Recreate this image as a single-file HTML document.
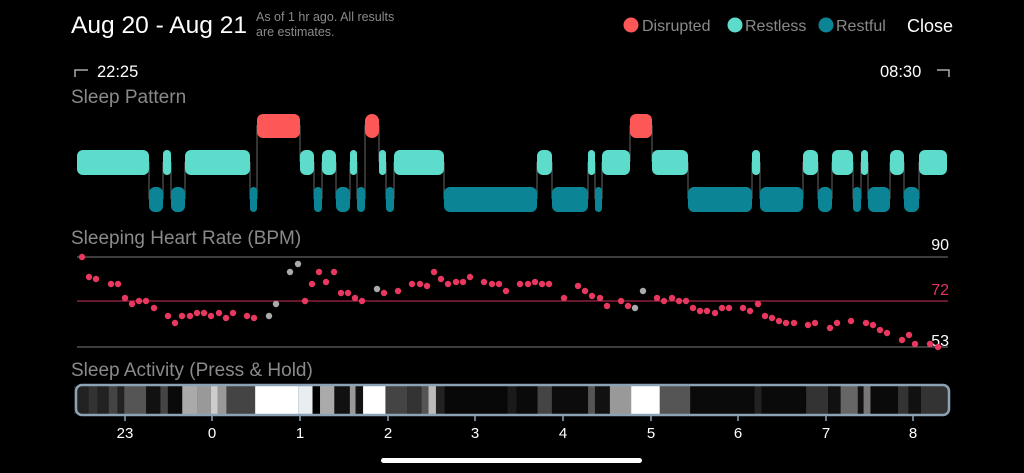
<!DOCTYPE html>
<html><head><meta charset="utf-8"><style>
html,body{margin:0;padding:0;background:#000;width:1024px;height:473px;overflow:hidden}
svg{display:block;font-family:"Liberation Sans",sans-serif}
</style></head><body>
<svg width="1024" height="473" viewBox="0 0 1024 473" xmlns="http://www.w3.org/2000/svg">
<rect width="1024" height="473" fill="#000"/>
<text x="71" y="33" font-size="24" fill="#fff" textLength="176" lengthAdjust="spacingAndGlyphs">Aug 20 - Aug 21</text>
<text x="256" y="21" font-size="12.5" fill="#8a8a8a">As of 1 hr ago. All results</text>
<text x="256" y="36" font-size="12.5" fill="#8a8a8a">are estimates.</text>
<circle cx="631" cy="25" r="7.5" fill="#fd5757"/><text x="642" y="31" font-size="16" fill="#8a8a8a">Disrupted</text>
<circle cx="735" cy="25" r="7.5" fill="#5ddccb"/><text x="745" y="31" font-size="16" fill="#8a8a8a">Restless</text>
<circle cx="826" cy="25" r="7.5" fill="#0b8595"/><text x="836" y="31" font-size="16" fill="#8a8a8a">Restful</text>
<text x="907" y="32" font-size="18" fill="#fff">Close</text>
<path d="M75,77 V70 H88" stroke="#aaa" stroke-width="1.5" fill="none"/>
<text x="97" y="77" font-size="16.5" fill="#fff">22:25</text>
<text x="880" y="77" font-size="16.5" fill="#fff">08:30</text>
<path d="M937,70 H949 V77" stroke="#aaa" stroke-width="1.5" fill="none"/>
<text x="71" y="103" font-size="19" fill="#8a8a8a">Sleep Pattern</text>
<g stroke="#444" stroke-width="1.5">
<line x1="149" y1="162" x2="149" y2="199"/><line x1="163" y1="162" x2="163" y2="199"/><line x1="171" y1="162" x2="171" y2="199"/><line x1="185" y1="162" x2="185" y2="199"/>
<line x1="250" y1="162" x2="250" y2="199"/><line x1="257" y1="125" x2="257" y2="199"/><line x1="300" y1="125" x2="300" y2="162"/><line x1="314" y1="162" x2="314" y2="199"/>
<line x1="322" y1="162" x2="322" y2="199"/><line x1="336" y1="162" x2="336" y2="199"/><line x1="350" y1="162" x2="350" y2="199"/><line x1="357" y1="162" x2="357" y2="199"/>
<line x1="365" y1="125" x2="365" y2="199"/><line x1="379" y1="125" x2="379" y2="162"/><line x1="386" y1="162" x2="386" y2="199"/><line x1="394" y1="162" x2="394" y2="199"/>
<line x1="444" y1="162" x2="444" y2="199"/><line x1="537" y1="162" x2="537" y2="199"/><line x1="552" y1="162" x2="552" y2="199"/><line x1="588" y1="162" x2="588" y2="199"/>
<line x1="595" y1="162" x2="595" y2="199"/><line x1="602" y1="162" x2="602" y2="199"/><line x1="630" y1="125" x2="630" y2="162"/><line x1="652" y1="125" x2="652" y2="162"/>
<line x1="688" y1="162" x2="688" y2="199"/><line x1="752" y1="162" x2="752" y2="199"/><line x1="760" y1="162" x2="760" y2="199"/><line x1="803" y1="162" x2="803" y2="199"/>
<line x1="818" y1="162" x2="818" y2="199"/><line x1="832" y1="162" x2="832" y2="199"/><line x1="853" y1="162" x2="853" y2="199"/><line x1="861" y1="162" x2="861" y2="199"/>
<line x1="868" y1="162" x2="868" y2="199"/><line x1="890" y1="162" x2="890" y2="199"/><line x1="904" y1="162" x2="904" y2="199"/><line x1="919" y1="162" x2="919" y2="199"/>
</g>
<g fill="#5ddccb">
<rect x="77" y="150" width="72" height="25" rx="6"/><rect x="163" y="150" width="8" height="25" rx="4"/><rect x="185" y="150" width="65" height="25" rx="6"/>
<rect x="300" y="150" width="14" height="25" rx="6"/><rect x="322" y="150" width="14" height="25" rx="6"/><rect x="350" y="150" width="7" height="25" rx="3.5"/>
<rect x="379" y="150" width="7" height="25" rx="3.5"/><rect x="394" y="150" width="50" height="25" rx="6"/><rect x="537" y="150" width="15" height="25" rx="6"/>
<rect x="588" y="150" width="7" height="25" rx="3.5"/><rect x="602" y="150" width="28" height="25" rx="6"/><rect x="652" y="150" width="36" height="25" rx="6"/>
<rect x="752" y="150" width="8" height="25" rx="4"/><rect x="803" y="150" width="15" height="25" rx="6"/><rect x="832" y="150" width="21" height="25" rx="6"/>
<rect x="861" y="150" width="7" height="25" rx="3.5"/><rect x="890" y="150" width="14" height="25" rx="6"/><rect x="919" y="150" width="28" height="25" rx="6"/>
</g>
<g fill="#0b8595">
<rect x="149" y="187" width="14" height="25" rx="6"/><rect x="171" y="187" width="14" height="25" rx="6"/><rect x="250" y="187" width="7" height="25" rx="3.5"/>
<rect x="314" y="187" width="8" height="25" rx="4"/><rect x="336" y="187" width="14" height="25" rx="6"/><rect x="357" y="187" width="8" height="25" rx="4"/>
<rect x="386" y="187" width="8" height="25" rx="4"/><rect x="444" y="187" width="93" height="25" rx="6"/><rect x="552" y="187" width="36" height="25" rx="6"/>
<rect x="595" y="187" width="7" height="25" rx="3.5"/><rect x="688" y="187" width="64" height="25" rx="6"/><rect x="760" y="187" width="43" height="25" rx="6"/>
<rect x="818" y="187" width="14" height="25" rx="6"/><rect x="853" y="187" width="8" height="25" rx="4"/><rect x="868" y="187" width="22" height="25" rx="6"/>
<rect x="904" y="187" width="15" height="25" rx="6"/>
</g>
<g fill="#fd5757">
<rect x="257" y="114" width="43" height="24" rx="6"/><rect x="365" y="114" width="14" height="24" rx="7"/><rect x="630" y="114" width="22" height="24" rx="6"/>
</g>
<text x="71" y="244" font-size="19" fill="#8a8a8a">Sleeping Heart Rate (BPM)</text>
<line x1="77" y1="257" x2="948" y2="257" stroke="#777" stroke-width="1"/>
<line x1="77" y1="301" x2="948" y2="301" stroke="#d1305a" stroke-width="1"/>
<line x1="77" y1="347" x2="948" y2="347" stroke="#777" stroke-width="1"/>
<text x="949" y="250" font-size="16" fill="#fff" text-anchor="end">90</text>
<text x="949" y="295" font-size="16" fill="#e0355f" text-anchor="end">72</text>
<text x="949" y="346" font-size="16" fill="#fff" text-anchor="end">53</text>
<g fill="#e8385f">
<circle cx="82" cy="257" r="3.2"/><circle cx="89" cy="277" r="3.2"/><circle cx="96" cy="279" r="3.2"/><circle cx="111" cy="284" r="3.2"/><circle cx="118" cy="284" r="3.2"/><circle cx="125" cy="298" r="3.2"/><circle cx="132" cy="304" r="3.2"/><circle cx="139" cy="301" r="3.2"/><circle cx="146" cy="301" r="3.2"/><circle cx="154" cy="308" r="3.2"/><circle cx="168" cy="316" r="3.2"/><circle cx="175" cy="323" r="3.2"/><circle cx="182" cy="316" r="3.2"/><circle cx="190" cy="316" r="3.2"/><circle cx="197" cy="313" r="3.2"/><circle cx="204" cy="313" r="3.2"/><circle cx="211" cy="316" r="3.2"/><circle cx="219" cy="313" r="3.2"/><circle cx="226" cy="318" r="3.2"/><circle cx="233" cy="313" r="3.2"/><circle cx="247" cy="316" r="3.2"/><circle cx="254" cy="318" r="3.2"/>
<circle cx="305" cy="301" r="3.2"/><circle cx="312" cy="284" r="3.2"/><circle cx="319" cy="272" r="3.2"/><circle cx="326" cy="282" r="3.2"/><circle cx="334" cy="272" r="3.2"/><circle cx="341" cy="293" r="3.2"/><circle cx="348" cy="293" r="3.2"/><circle cx="355" cy="298" r="3.2"/><circle cx="362" cy="301" r="3.2"/><circle cx="384" cy="293" r="3.2"/><circle cx="398" cy="291" r="3.2"/><circle cx="412" cy="284" r="3.2"/><circle cx="420" cy="284" r="3.2"/><circle cx="427" cy="286" r="3.2"/><circle cx="434" cy="272" r="3.2"/><circle cx="441" cy="279" r="3.2"/><circle cx="448" cy="284" r="3.2"/><circle cx="456" cy="282" r="3.2"/><circle cx="463" cy="282" r="3.2"/><circle cx="470" cy="277" r="3.2"/><circle cx="484" cy="282" r="3.2"/><circle cx="492" cy="284" r="3.2"/><circle cx="499" cy="284" r="3.2"/><circle cx="506" cy="291" r="3.2"/>
<circle cx="520" cy="284" r="3.2"/><circle cx="528" cy="284" r="3.2"/><circle cx="535" cy="282" r="3.2"/><circle cx="542" cy="284" r="3.2"/><circle cx="549" cy="284" r="3.2"/><circle cx="564" cy="298" r="3.2"/><circle cx="578" cy="286" r="3.2"/><circle cx="585" cy="291" r="3.2"/><circle cx="592" cy="296" r="3.2"/><circle cx="600" cy="298" r="3.2"/><circle cx="607" cy="306" r="3.2"/><circle cx="621" cy="301" r="3.2"/><circle cx="628" cy="306" r="3.2"/><circle cx="657" cy="298" r="3.2"/><circle cx="664" cy="301" r="3.2"/><circle cx="672" cy="298" r="3.2"/><circle cx="679" cy="301" r="3.2"/><circle cx="686" cy="301" r="3.2"/><circle cx="693" cy="308" r="3.2"/><circle cx="700" cy="311" r="3.2"/><circle cx="707" cy="311" r="3.2"/><circle cx="715" cy="313" r="3.2"/><circle cx="722" cy="308" r="3.2"/><circle cx="729" cy="308" r="3.2"/><circle cx="743" cy="308" r="3.2"/><circle cx="750" cy="311" r="3.2"/><circle cx="758" cy="304" r="3.2"/><circle cx="765" cy="316" r="3.2"/><circle cx="772" cy="318" r="3.2"/><circle cx="779" cy="321" r="3.2"/><circle cx="786" cy="323" r="3.2"/><circle cx="794" cy="323" r="3.2"/><circle cx="808" cy="325" r="3.2"/><circle cx="815" cy="323" r="3.2"/><circle cx="830" cy="328" r="3.2"/><circle cx="837" cy="323" r="3.2"/><circle cx="851" cy="321" r="3.2"/><circle cx="866" cy="323" r="3.2"/><circle cx="873" cy="325" r="3.2"/><circle cx="880" cy="330" r="3.2"/><circle cx="887" cy="333" r="3.2"/><circle cx="902" cy="340" r="3.2"/><circle cx="909" cy="335" r="3.2"/><circle cx="915" cy="344" r="3.2"/><circle cx="930" cy="344" r="3.2"/><circle cx="938" cy="347" r="3.2"/>
</g>
<g fill="#aaa">
<circle cx="269" cy="316" r="3.2"/><circle cx="276" cy="304" r="3.2"/><circle cx="290" cy="272" r="3.2"/><circle cx="298" cy="264" r="3.2"/><circle cx="377" cy="289" r="3.2"/><circle cx="635" cy="308" r="3.2"/><circle cx="643" cy="291" r="3.2"/>
</g>
<text x="71" y="376" font-size="19" fill="#8a8a8a">Sleep Activity (Press &amp; Hold)</text>
<g transform="translate(60,386) scale(0.574,1)">
<rect x="25" y="0" width="1523" height="28" fill="#222"/>
<rect x="50" y="0" width="15" height="28" fill="#333"/><rect x="85" y="0" width="15" height="28" fill="#444"/><rect x="112" y="0" width="38" height="28" fill="#555"/><rect x="150" y="0" width="25" height="28" fill="#111"/><rect x="175" y="0" width="13" height="28" fill="#444"/><rect x="188" y="0" width="25" height="28" fill="#0a0a0a"/>
<rect x="213" y="0" width="27" height="28" fill="#aaa"/><rect x="240" y="0" width="23" height="28" fill="#999"/><rect x="263" y="0" width="12" height="28" fill="#ccc"/><rect x="275" y="0" width="15" height="28" fill="#999"/><rect x="290" y="0" width="50" height="28" fill="#444"/>
<rect x="340" y="0" width="75" height="28" fill="#fff"/><rect x="415" y="0" width="25" height="28" fill="#e8eef0"/><rect x="440" y="0" width="13" height="28" fill="#000"/><rect x="453" y="0" width="25" height="28" fill="#aaa"/><rect x="478" y="0" width="27" height="28" fill="#111"/><rect x="505" y="0" width="10" height="28" fill="#999"/><rect x="515" y="0" width="13" height="28" fill="#111"/>
<rect x="528" y="0" width="39" height="28" fill="#fff"/><rect x="567" y="0" width="38" height="28" fill="#444"/><rect x="605" y="0" width="25" height="28" fill="#333"/><rect x="630" y="0" width="12" height="28" fill="#555"/><rect x="642" y="0" width="13" height="28" fill="#bbb"/><rect x="655" y="0" width="15" height="28" fill="#222"/>
<rect x="670" y="0" width="110" height="28" fill="#080808"/><rect x="780" y="0" width="15" height="28" fill="#1a1a1a"/><rect x="795" y="0" width="37" height="28" fill="#0a0a0a"/><rect x="832" y="0" width="25" height="28" fill="#444"/><rect x="857" y="0" width="63" height="28" fill="#0c0c0c"/><rect x="920" y="0" width="12" height="28" fill="#555"/><rect x="932" y="0" width="26" height="28" fill="#111"/>
<rect x="958" y="0" width="37" height="28" fill="#999"/><rect x="995" y="0" width="50" height="28" fill="#fff"/><rect x="1045" y="0" width="53" height="28" fill="#555"/><rect x="1098" y="0" width="112" height="28" fill="#0a0a0a"/><rect x="1210" y="0" width="12" height="28" fill="#222"/><rect x="1222" y="0" width="78" height="28" fill="#0a0a0a"/>
<rect x="1300" y="0" width="38" height="28" fill="#333"/><rect x="1338" y="0" width="22" height="28" fill="#111"/><rect x="1360" y="0" width="30" height="28" fill="#666"/><rect x="1390" y="0" width="10" height="28" fill="#111"/><rect x="1400" y="0" width="12" height="28" fill="#777"/><rect x="1412" y="0" width="48" height="28" fill="#0a0a0a"/><rect x="1460" y="0" width="18" height="28" fill="#333"/><rect x="1478" y="0" width="22" height="28" fill="#111"/><rect x="1500" y="0" width="48" height="28" fill="#333"/>
</g>
<rect x="76" y="385" width="873" height="30" rx="6" fill="none" stroke="#8ea2b5" stroke-width="2.5"/>
<g stroke="#8ea2b5" stroke-width="1.5">
<line x1="125" y1="416" x2="125" y2="421"/><line x1="212" y1="416" x2="212" y2="421"/><line x1="300" y1="416" x2="300" y2="421"/><line x1="388" y1="416" x2="388" y2="421"/><line x1="475" y1="416" x2="475" y2="421"/><line x1="563" y1="416" x2="563" y2="421"/><line x1="651" y1="416" x2="651" y2="421"/><line x1="738" y1="416" x2="738" y2="421"/><line x1="826" y1="416" x2="826" y2="421"/><line x1="913" y1="416" x2="913" y2="421"/>
</g>
<g font-size="15" fill="#fff" text-anchor="middle">
<text x="125" y="438">23</text><text x="212" y="438">0</text><text x="300" y="438">1</text><text x="388" y="438">2</text><text x="475" y="438">3</text><text x="563" y="438">4</text><text x="651" y="438">5</text><text x="738" y="438">6</text><text x="826" y="438">7</text><text x="913" y="438">8</text>
</g>
<rect x="381" y="458" width="261" height="5" rx="2.5" fill="#fff"/>
</svg>
</body></html>
